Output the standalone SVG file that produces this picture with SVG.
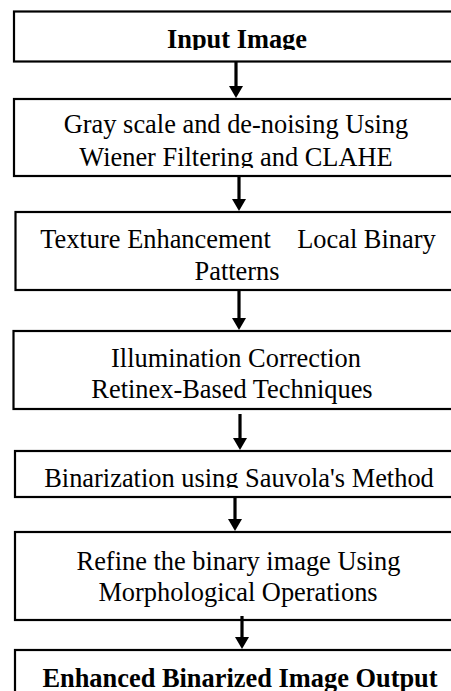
<svg xmlns="http://www.w3.org/2000/svg" width="451" height="691" viewBox="0 0 451 691">
<style>
.box{fill:#fff;stroke:#000;stroke-width:2.2}
.t{font-family:"Liberation Serif","Times New Roman",serif;font-size:26.4px;fill:#000;text-anchor:middle}
.b{font-weight:bold}
.sh{stroke:#000;stroke-width:3.2;fill:none}
.hd{fill:#000}
</style>
<defs>
<clipPath id="c1"><rect x="0" y="0" width="451" height="50"/></clipPath>
<clipPath id="c2"><rect x="0" y="140" width="451" height="28"/></clipPath>
<clipPath id="c4"><rect x="0" y="372" width="451" height="34"/></clipPath>
<clipPath id="c5"><rect x="0" y="455" width="451" height="33"/></clipPath>
</defs>
<rect width="451" height="691" fill="#fff"/>
<g id="n1"><rect class="box" x="14" y="11.5" width="470" height="50"/><text class="t b" x="237" y="48" clip-path="url(#c1)">Input Image</text></g>
<g id="n2"><rect class="box" x="14" y="99" width="470" height="77"/><text class="t" x="236" y="133">Gray scale and de-noising Using</text><text class="t" x="236" y="166" clip-path="url(#c2)">Wiener Filtering and CLAHE</text></g>
<g id="n3"><rect class="box" x="15.5" y="212" width="470" height="78"/><text class="t" x="238" y="248" xml:space="preserve">Texture Enhancement    Local Binary</text><text class="t" x="237" y="280">Patterns</text></g>
<g id="n4"><rect class="box" x="13.5" y="331" width="470" height="78"/><text class="t" x="236" y="367">Illumination Correction</text><text class="t" x="232" y="398" clip-path="url(#c4)">Retinex-Based Techniques</text></g>
<g id="n5"><rect class="box" x="15" y="451" width="470" height="46"/><text class="t" x="239" y="486.5" clip-path="url(#c5)">Binarization using Sauvola's Method</text></g>
<g id="n6"><rect class="box" x="15" y="532" width="470" height="88"/><text class="t" x="238.5" y="570">Refine the binary image Using</text><text class="t" x="238" y="601">Morphological Operations</text></g>
<g id="n7"><rect class="box" x="15" y="650" width="470" height="60"/><text class="t b" x="240" y="687">Enhanced Binarized Image Output</text></g>
<g id="edges">
<line class="sh" x1="236" y1="62" x2="236" y2="87"/><polygon class="hd" points="229,86 243,86 236,98"/>
<line class="sh" x1="239" y1="177" x2="239" y2="200"/><polygon class="hd" points="232,199 246,199 239,211"/>
<line class="sh" x1="239" y1="291" x2="239" y2="319"/><polygon class="hd" points="232,318 246,318 239,330"/>
<line class="sh" x1="240" y1="414" x2="240" y2="439"/><polygon class="hd" points="233,438 247,438 240,450"/>
<line class="sh" x1="235" y1="498" x2="235" y2="520"/><polygon class="hd" points="228,519 242,519 235,531"/>
<line class="sh" x1="242" y1="616" x2="242" y2="638"/><polygon class="hd" points="235,637 249,637 242,649"/>
</g>
</svg>
